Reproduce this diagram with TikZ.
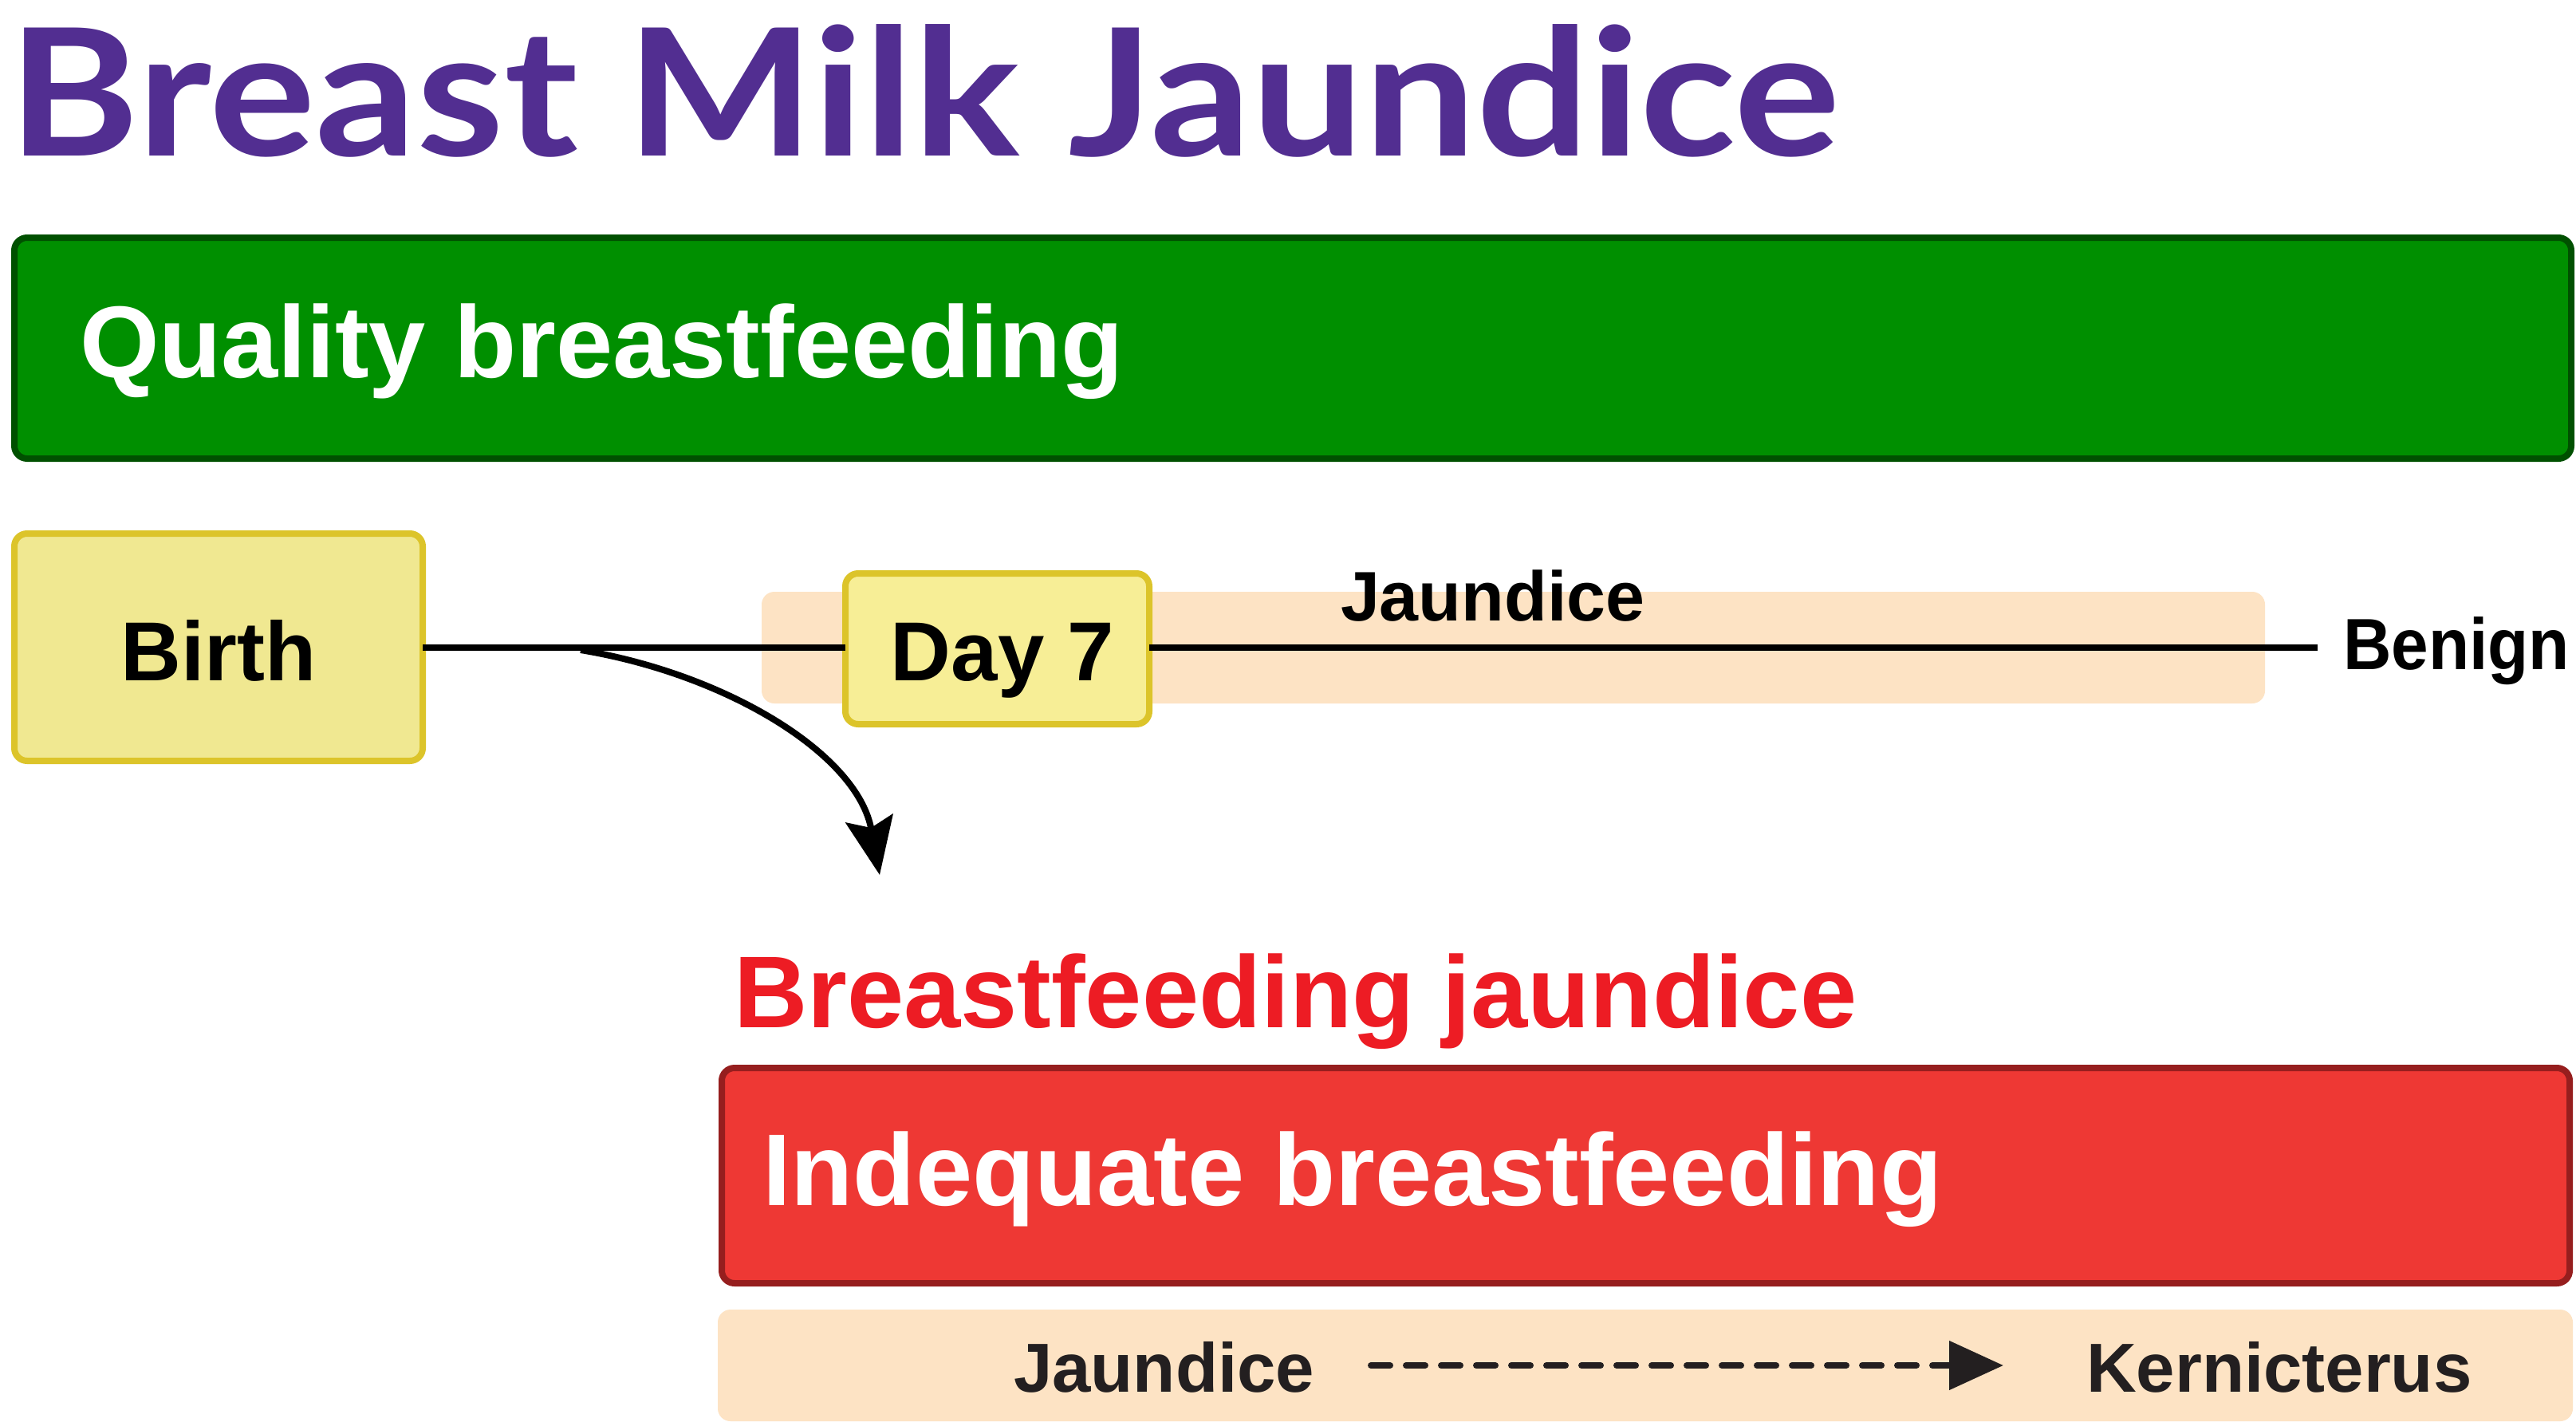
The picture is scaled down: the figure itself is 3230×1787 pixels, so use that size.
\documentclass[tikz,border=0pt]{standalone}
\usepackage{fontspec}
\setmainfont{Liberation Sans}
\newfontfamily\titlefont{Lato}
\usetikzlibrary{arrows.meta}
\definecolor{titlepurple}{RGB}{82,46,145}
\definecolor{greenfill}{RGB}{0,143,0}
\definecolor{greenline}{RGB}{0,80,0}
\definecolor{birthfill}{RGB}{240,232,145}
\definecolor{dayfill}{RGB}{247,238,150}
\definecolor{yellowline}{RGB}{220,196,42}
\definecolor{peach}{RGB}{253,227,196}
\definecolor{redfill}{RGB}{238,56,52}
\definecolor{redline}{RGB}{150,30,30}
\definecolor{redtext}{RGB}{237,28,36}
\definecolor{darktext}{RGB}{35,31,32}
\tikzset{
  box/.style={rectangle, inner sep=0pt, outer sep=0pt, line width=2pt, rounded corners=4pt},
  band/.style={rectangle, inner sep=0pt, outer sep=0pt, fill=peach, rounded corners=4pt},
  lbl/.style={inner sep=0pt, outer sep=0pt, font=\bfseries},
  timeline/.style={line width=2pt, black},
}
\begin{document}
\begin{tikzpicture}[x=0.25pt,y=-0.25pt]
\fill[white] (0,0) rectangle (3230,1787);
\useasboundingbox (0,0) rectangle (3230,1787);

% title
\node[lbl, anchor=base west, text=titlepurple] (title) at (10,195)
  {\titlefont\bfseries\fontsize{55.5pt}{64pt}\selectfont\scalebox{1.125}[1]{Breast Milk Jaundice}};

% green box
\node[box, draw=greenline, fill=greenfill, minimum width=801.5pt, minimum height=69.25pt] (quality) at (1621,436.5) {};
\node[lbl, anchor=base west, text=white, font=\bfseries\fontsize{32pt}{38pt}\selectfont] (qtext) at (100,473) {Quality breastfeeding};

% upper peach band
\node[band, minimum width=471.25pt, minimum height=35pt] (band1) at (1897.5,812) {};
\node[lbl, anchor=base west, font=\bfseries\fontsize{22pt}{26pt}\selectfont] (jaund1) at (1681,778) {Jaundice};

% birth and day 7
\node[box, draw=yellowline, fill=birthfill, minimum width=128pt, minimum height=71.25pt] (birth) at (274,811.5) {};
\node[lbl, anchor=base, font=\bfseries\fontsize{26.25pt}{31pt}\selectfont] (birthtext) at (274,853) {Birth};
\node[box, draw=yellowline, fill=dayfill, minimum width=95.25pt, minimum height=47.25pt] (day7) at (1250.5,813.5) {};
\node[lbl, anchor=base, font=\bfseries\fontsize{26.25pt}{31pt}\selectfont] (daytext) at (1257,853) {Day 7};

\coordinate (birthout) at (530,812);
\coordinate (dayin) at (1060,812);
\coordinate (dayout) at (1441,812);
\coordinate (lineend) at (2906,812);
\coordinate (branch) at (728,815);
\coordinate (arrowtip) at (1103,1097);
\draw[timeline] (birthout) -- (dayin);
\draw[timeline] (dayout) -- (lineend);
\node[lbl, anchor=base west, font=\bfseries\fontsize{22.75pt}{27pt}\selectfont] (benign) at (2938,839) {\scalebox{0.92}[1]{Benign}};

\draw[timeline, -{Stealth[length=18pt,width=15pt,inset=3pt]}] (branch) .. controls (910,845) and (1075,945) .. (arrowtip);

% breastfeeding jaundice
\node[lbl, anchor=base west, text=redtext, font=\bfseries\fontsize{32pt}{38pt}\selectfont] (bfj) at (920,1288) {Breastfeeding jaundice};
\node[box, draw=redline, fill=redfill, minimum width=579.25pt, minimum height=67.5pt] (inadequate) at (2063.5,1474) {};
\node[lbl, anchor=base west, text=white, font=\bfseries\fontsize{32pt}{38pt}\selectfont] (itext) at (956,1511) {Indequate breastfeeding};

% lower peach band
\node[band, minimum width=581.5pt, minimum height=35pt] (band2) at (2063,1712) {};
\node[lbl, anchor=base west, text=darktext, font=\bfseries\fontsize{21.75pt}{26pt}\selectfont] (jaund2) at (1271,1745) {Jaundice};
\node[lbl, anchor=base west, text=darktext, font=\bfseries\fontsize{21.75pt}{26pt}\selectfont] (kern) at (2616,1745) {Kernicterus};
\coordinate (dstart) at (1719,1712);
\coordinate (dend) at (2512,1712);
\draw[darktext, line width=2pt, line cap=round, dash pattern=on 6pt off 5pt, -{Triangle[length=17pt,width=15pt]}]
  (dstart) -- (dend);
\end{tikzpicture}
\end{document}
